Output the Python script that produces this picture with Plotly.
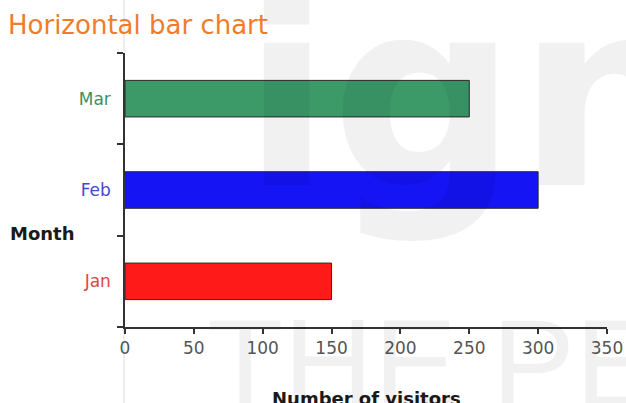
import plotly.graph_objects as go

# Monthly visitor counts
months = ["Jan", "Feb", "Mar"]
visitors = [150, 300, 250]
bar_colors = ["#ff1a1a", "#1414f5", "#3c9a68"]
label_colors = ["#d84848", "#4646d2", "#3f8f5c"]
x_ticks = [0, 50, 100, 150, 200, 250, 300, 350]

tick_text = [f"<span style='color:{c}'>{m}</span>" for m, c in zip(months, label_colors)]

fig = go.Figure(
    go.Bar(
        x=visitors,
        y=months,
        orientation="h",
        width=0.4,
        marker=dict(color=bar_colors, line=dict(color="#2a2a2a", width=1)),
        showlegend=False,
    )
)

fig.update_layout(
    width=626,
    height=403,
    margin=dict(l=125, r=19, t=53, b=76),
    paper_bgcolor="white",
    plot_bgcolor="white",
    font=dict(family="DejaVu Sans", size=17, color="#555555"),
)

fig.update_xaxes(
    automargin=False,
    range=[0, 350],
    tickvals=x_ticks,
    ticktext=[str(v) for v in x_ticks],
    showgrid=False,
    zeroline=False,
    showline=True,
    linecolor="#333333",
    linewidth=1.5,
    ticks="outside",
    ticklen=5,
    tickwidth=1.5,
    tickcolor="#333333",
    tickfont=dict(size=17, color="#555555"),
)

fig.update_yaxes(
    automargin=False,
    type="category",
    categoryorder="array",
    categoryarray=months,
    range=[-0.5, 2.5],
    tickvals=months,
    ticktext=tick_text,
    tickson="boundaries",
    showgrid=False,
    zeroline=False,
    showline=True,
    linecolor="#333333",
    linewidth=1.5,
    ticks="outside",
    ticklen=6,
    tickwidth=1.5,
    tickcolor="#333333",
    ticklabelstandoff=9,
    tickfont=dict(size=17),
)

# Thin faint guide line running the full height along the value axis origin
fig.add_shape(
    type="line", xref="paper", yref="paper",
    x0=-1 / 482, x1=-1 / 482, y0=-76 / 274, y1=1 + 53 / 274,
    line=dict(color="#dcdcdc", width=1), layer="below",
)

# Chart title and axis titles
fig.add_annotation(
    text="Horizontal bar chart", xref="paper", yref="paper",
    x=-119 / 482, y=1 + 28 / 274, xanchor="left", yanchor="middle",
    showarrow=False, font=dict(size=26, color="#f07c2a"),
)
fig.add_annotation(
    text="<b>Month</b>", xref="paper", yref="paper",
    x=-117 / 482, y=(327 - 233) / 274, xanchor="left", yanchor="middle",
    showarrow=False, font=dict(size=18, color="#1a1a1a"),
)
fig.add_annotation(
    text="<b>Number of visitors</b>", xref="paper", yref="paper",
    x=0.5, y=-(398 - 327) / 274, xanchor="center", yanchor="middle",
    showarrow=False, font=dict(size=18, color="#1a1a1a"),
)

# Faint background watermark
fig.add_annotation(
    text="<b>ign</b>", xref="paper", yref="paper",
    x=(240 - 125) / 482, y=(327 - 95) / 274, xanchor="left", yanchor="middle",
    showarrow=False, font=dict(family="DejaVu Sans", size=260, color="rgba(0,0,0,0.055)"),
)
fig.add_annotation(
    text="THE PE", xref="paper", yref="paper",
    x=(205 - 125) / 482, y=-(362 - 327) / 274, xanchor="left", yanchor="middle",
    showarrow=False, font=dict(family="Liberation Sans", size=125, color="rgba(0,0,0,0.055)"),
)

fig.write_html("out.html")
